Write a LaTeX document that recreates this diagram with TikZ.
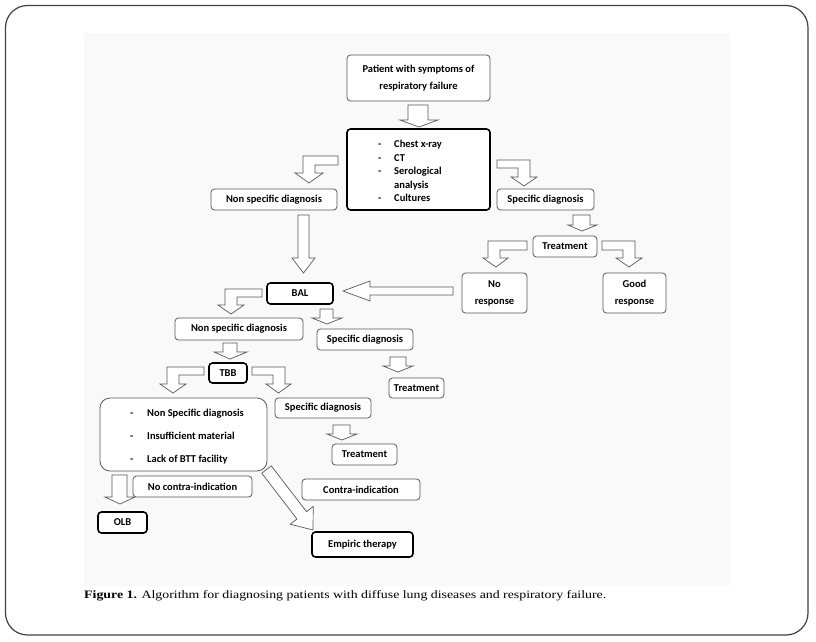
\documentclass[tikz,border=0pt]{standalone}
\usepackage{fontspec}
\usepackage{graphicx}
\usetikzlibrary{calc}
\newfontfamily\labfont{Carlito}
\newfontfamily\capfont{Liberation Serif}
\definecolor{bggrey}{HTML}{F9F9F9}
\definecolor{boxgrey}{HTML}{5A5A5A}
\newcommand{\diagarrow}[5]{%
  \path ($(#2)!#5!(#1)$) coordinate (hb);
  \draw[harr] ($(#1)!#3!90:(#2)$) -- ($(hb)!#3!90:(#2)$) -- ($(hb)!#4!90:(#2)$) -- (#2)
    -- ($(hb)!#4!-90:(#2)$) -- ($(hb)!#3!-90:(#2)$) -- ($(#1)!#3!-90:(#2)$) -- cycle;}
\begin{document}
\begin{tikzpicture}[x=1pt,y=-1pt,
  lab/.style={font=\labfont\bfseries\fontsize{10.5}{12}\selectfont, inner sep=0pt},
  tbox/.style={draw=boxgrey, line width=0.8pt, rounded corners=3.5pt, fill=white,
     font=\labfont\bfseries\fontsize{10.5}{17}\selectfont, inner sep=1pt, align=center},
  kbox/.style={tbox, draw=black, line width=1.6pt},
  harr/.style={draw=black!65, fill=white, line width=0.7pt, line join=miter}]
\path[use as bounding box] (0,0) rectangle (816,642);
\fill[bggrey] (84,33) rectangle (730,586);
\draw[rounded corners=22pt, line width=1.2pt, black!75] (5.5,5.5) rectangle (808,635);

% ---- block arrows ----
\draw[harr] (408,105) -- (428,105) -- (428,120) -- (438,120) -- (419,127) -- (400,120) -- (408,120) -- cycle;
\draw[harr] (338,156) -- (303,156) -- (303,173) -- (295,173) -- (309,183) -- (323,173) -- (315,173) -- (315,165) -- (338,165) -- cycle;
\draw[harr] (497,160) -- (530,160) -- (530,177) -- (537,177) -- (524,186) -- (511,177) -- (518,177) -- (518,168) -- (497,168) -- cycle;
\draw[harr] (573,215) -- (590,215) -- (590,225) -- (597,225) -- (582,231) -- (568,225) -- (573,225) -- cycle;
\draw[harr] (527,241) -- (488,241) -- (488,258) -- (483,258) -- (496,267) -- (508,258) -- (500,258) -- (500,250) -- (527,250) -- cycle;
\draw[harr] (602,241) -- (635,241) -- (635,258) -- (642,258) -- (629,267) -- (616,258) -- (623,258) -- (623,250) -- (602,250) -- cycle;
\draw[harr] (298,215) -- (309,215) -- (309,258) -- (315,258) -- (303.5,273) -- (292,258) -- (298,258) -- cycle;
\draw[harr] (453,287) -- (370,287) -- (370,281) -- (343,291) -- (370,301) -- (370,295) -- (453,295) -- cycle;
\draw[harr] (262,289) -- (225,289) -- (225,305) -- (218,305) -- (231,314) -- (244,305) -- (237,305) -- (237,297) -- (262,297) -- cycle;
\draw[harr] (320,309) -- (333,309) -- (333,318) -- (342,318) -- (327,324) -- (312,318) -- (320,318) -- cycle;
\draw[harr] (223,343) -- (237,343) -- (237,352) -- (247,352) -- (230,359) -- (214,352) -- (223,352) -- cycle;
\draw[harr] (204,367) -- (167,367) -- (167,384) -- (160,384) -- (173,393) -- (186,384) -- (179,384) -- (179,375) -- (204,375) -- cycle;
\draw[harr] (252,367) -- (285,367) -- (285,384) -- (291,384) -- (278.5,393) -- (266,384) -- (273,384) -- (273,375) -- (252,375) -- cycle;
\draw[harr] (390,357) -- (406,357) -- (406,366) -- (413,366) -- (398,372) -- (383,366) -- (390,366) -- cycle;
\draw[harr] (333,425) -- (350,425) -- (350,434) -- (357,434) -- (342,440) -- (327,434) -- (333,434) -- cycle;
\draw[harr] (112,475) -- (127,475) -- (127,497) -- (135,497) -- (120,504) -- (105,497) -- (112,497) -- cycle;
\coordinate (ds) at (266.5,469.5);
\coordinate (dt) at (313,530);
\diagarrow{ds}{dt}{6pt}{14.5pt}{18.5pt}

% ---- boxes ----
\node[tbox, minimum width=143pt, minimum height=46pt] (p1) at (418.5,78) {Patient with symptoms of\\respiratory failure};
\node[kbox, minimum width=143pt, minimum height=81pt] (tests) at (418.5,169.5) {};
\node[lab, anchor=base west] (d1) at (378,147.5) {-};
\node[lab, anchor=base west] (t1) at (394,147.5) {Chest x-ray};
\node[lab, anchor=base west] (d2) at (378,161) {-};
\node[lab, anchor=base west] (t2) at (394,161) {CT};
\node[lab, anchor=base west] (d3) at (378,174.5) {-};
\node[lab, anchor=base west] (t3) at (394,174.5) {Serological};
\node[lab, anchor=base west] (t3b) at (394,188) {analysis};
\node[lab, anchor=base west] (d4) at (378,201.5) {-};
\node[lab, anchor=base west] (t4) at (394,201.5) {Cultures};

\node[tbox, minimum width=126pt, minimum height=21pt] (nsd1) at (274,199.5) {Non specific diagnosis};
\node[tbox, minimum width=97pt, minimum height=21pt] (sd1) at (545.5,199.5) {Specific diagnosis};
\node[tbox, minimum width=64pt, minimum height=21pt] (tr1) at (565,246.5) {Treatment};
\node[tbox, minimum width=65pt, minimum height=40pt] (nr) at (494.5,293) {No\\response};
\node[tbox, minimum width=63pt, minimum height=40pt] (gr) at (634.5,293) {Good\\response};
\node[kbox, minimum width=66pt, minimum height=21pt] (bal) at (300,293.5) {BAL};
\node[tbox, minimum width=128pt, minimum height=22pt] (nsd2) at (239,329) {Non specific diagnosis};
\node[tbox, minimum width=96pt, minimum height=21pt] (sd2) at (365,339.5) {Specific diagnosis};
\node[kbox, minimum width=38pt, minimum height=20pt] (tbb) at (228,373) {TBB};
\node[tbox, minimum width=55pt, minimum height=20pt] (tr2) at (416.5,388) {Treatment};

\node[tbox, rounded corners=10pt, minimum width=167pt, minimum height=73pt] (lst) at (183.5,434.5) {};
\node[lab, anchor=base west] (e1) at (130,416.5) {-};
\node[lab, anchor=base west] (f1) at (147,416.5) {Non Specific diagnosis};
\node[lab, anchor=base west] (e2) at (130,439.5) {-};
\node[lab, anchor=base west] (f2) at (147,439.5) {Insufficient material};
\node[lab, anchor=base west] (e3) at (130,462.5) {-};
\node[lab, anchor=base west] (f3) at (147,462.5) {Lack of BTT facility};

\node[tbox, minimum width=96pt, minimum height=20pt] (sd3) at (323,408) {Specific diagnosis};
\node[tbox, minimum width=65pt, minimum height=21pt] (tr3) at (364.5,454.5) {Treatment};
\node[tbox, minimum width=119pt, minimum height=21pt] (nci) at (192.5,486.5) {No contra-indication};
\node[kbox, minimum width=49pt, minimum height=21pt] (olb) at (122.5,522.5) {OLB};
\node[tbox, minimum width=118pt, minimum height=21pt] (ci) at (361,489.5) {Contra-indication};
\node[kbox, minimum width=101pt, minimum height=25pt] (emp) at (362.5,544.5) {Empiric therapy};

% ---- caption ----
\node[anchor=base west, inner sep=0pt] (cap) at (84,598.5) {\resizebox{522pt}{8pt}{\capfont\fontsize{11}{13}\selectfont\textbf{Figure 1.} Algorithm for diagnosing patients with diffuse lung diseases and respiratory failure.}};
\end{tikzpicture}
\end{document}
